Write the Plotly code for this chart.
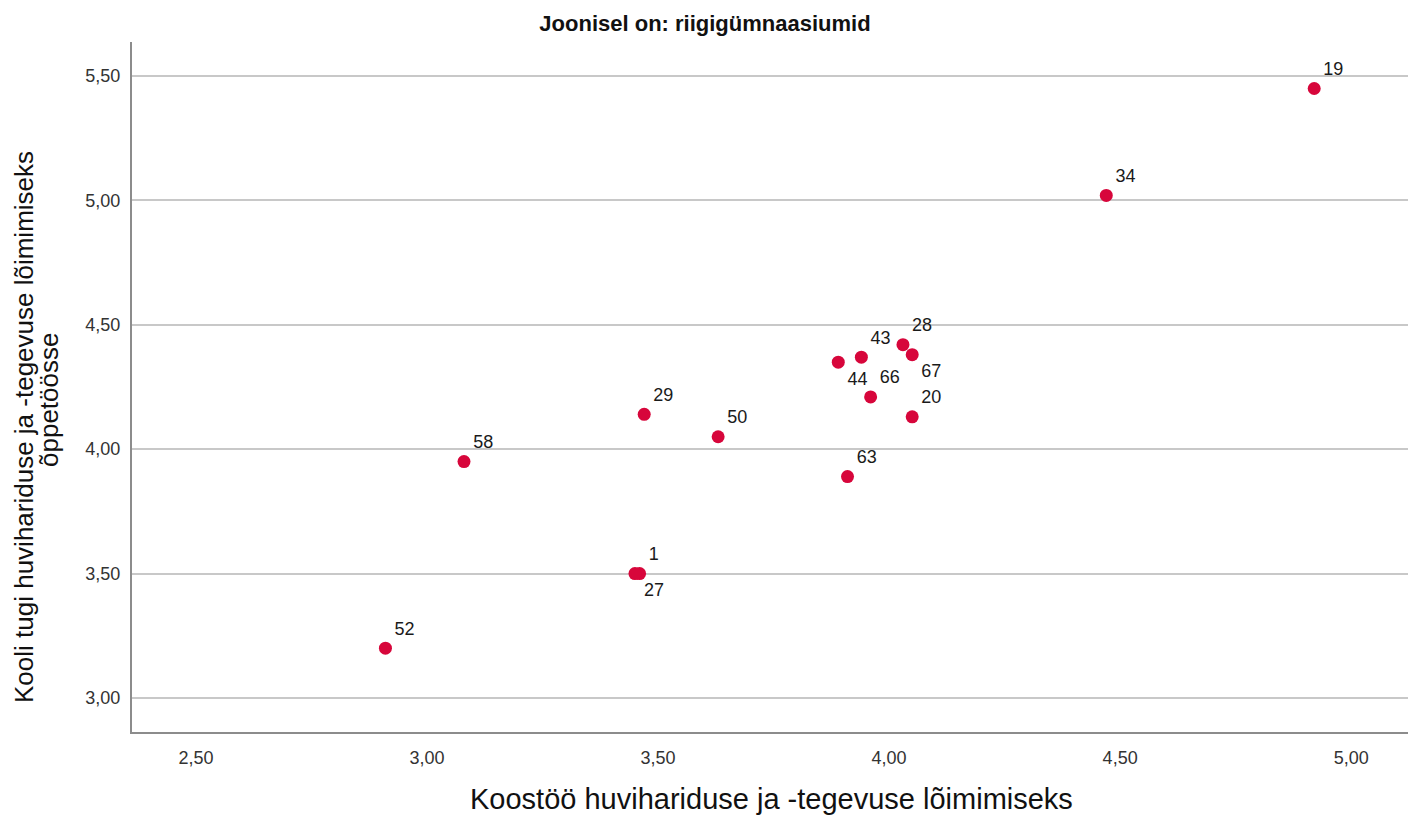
import plotly.graph_objects as go

# ==========================
# Data
# ==========================

school_ids = ["19", "34", "28", "67", "43", "44", "66", "20", "63", "50", "29", "58", "1", "27", "52"]

koostoo = [4.92, 4.47, 4.03, 4.05, 3.94, 3.89, 3.96, 4.05, 3.91, 3.63, 3.47, 3.08, 3.46, 3.45, 2.91]

kooli_tugi = [5.45, 5.02, 4.42, 4.38, 4.37, 4.35, 4.21, 4.13, 3.89, 4.05, 4.14, 3.95, 3.50, 3.50, 3.20]

label_pos = ["top right", "top right", "top right", "bottom right", "top right", "bottom right",
             "top right", "top right", "top right", "top right", "top right", "top right",
             "top right", "bottom right", "top right"]

x_ticks = [2.5, 3.0, 3.5, 4.0, 4.5, 5.0]
y_ticks = [3.0, 3.5, 4.0, 4.5, 5.0, 5.5]

FONT = "Liberation Sans, Arial, sans-serif"

fig = go.Figure()

# ==========================
# Scatter
# ==========================

fig.add_trace(

    go.Scatter(

        x=koostoo,

        y=kooli_tugi,

        mode="markers+text",

        text=school_ids,

        textposition=label_pos,

        textfont=dict(family=FONT, size=18, color="#1a1a1a"),

        marker=dict(size=13, color="#D7063B", line=dict(width=0)),

        showlegend=False,

        cliponaxis=False

    )

)

# ==========================
# Layout
# ==========================

W, H = 1408, 816
ML, MR, MT, MB = 132, 0, 42, 84

fig.update_layout(

    width=W,
    height=H,

    paper_bgcolor="white",
    plot_bgcolor="white",

    separators=", ",

    font=dict(family=FONT, size=18, color="#333333"),

    margin=dict(l=ML, r=MR, t=MT, b=MB, autoexpand=False),

    title=dict(

        text="<b>Joonisel on: riigigümnaasiumid</b>",

        font=dict(family=FONT, size=22, color="#111111"),

        x=(705 / W),
        xanchor="center",

        y=1 - 23 / H,
        yanchor="middle"

    )

)

fig.update_xaxes(

    range=[2.3615, 5.123],

    tickvals=x_ticks,

    tickformat=".2f",

    showgrid=False,

    zeroline=False,

    showline=True,
    linecolor="#8C8C8C",
    linewidth=2,

    ticks="",
    ticklabelstandoff=8,

    automargin=False,

    tickfont=dict(family=FONT, size=18, color="#333333")

)

fig.update_yaxes(

    range=[2.863, 5.637],

    tickvals=y_ticks,

    tickformat=".2f",

    showgrid=True,
    gridcolor="#C8C8C8",
    gridwidth=1.5,

    zeroline=False,

    showline=True,
    linecolor="#8C8C8C",
    linewidth=2,

    ticks="",
    ticklabelstandoff=6,

    automargin=False,

    tickfont=dict(family=FONT, size=18, color="#333333")

)

# ==========================
# Axis titles
# ==========================

pw = W - ML - MR
ph = H - MT - MB


def px_x(px):
    return (px - ML) / pw


def px_y(py):
    return 1 - (py - MT) / ph


fig.add_annotation(

    text="Koostöö huvihariduse ja -tegevuse lõimimiseks",

    xref="paper", yref="paper",

    x=px_x(772),
    y=px_y(781),

    xanchor="center", yanchor="top",

    showarrow=False,

    font=dict(family=FONT, size=29, color="#111111")

)

fig.add_annotation(

    text="Kooli tugi huvihariduse ja -tegevuse lõimimiseks",

    xref="paper", yref="paper",

    x=px_x(24),
    y=px_y(427),

    xanchor="center", yanchor="middle",

    textangle=-90,

    showarrow=False,

    font=dict(family=FONT, size=26, color="#111111")

)

fig.add_annotation(

    text="õppetöösse",

    xref="paper", yref="paper",

    x=px_x(49),
    y=px_y(400),

    xanchor="center", yanchor="middle",

    textangle=-90,

    showarrow=False,

    font=dict(family=FONT, size=26, color="#111111")

)

fig.write_html(

    "out.html",

    config={"displayModeBar": False},

    post_script="document.body.style.margin='0';document.body.style.overflow='hidden';"

)
